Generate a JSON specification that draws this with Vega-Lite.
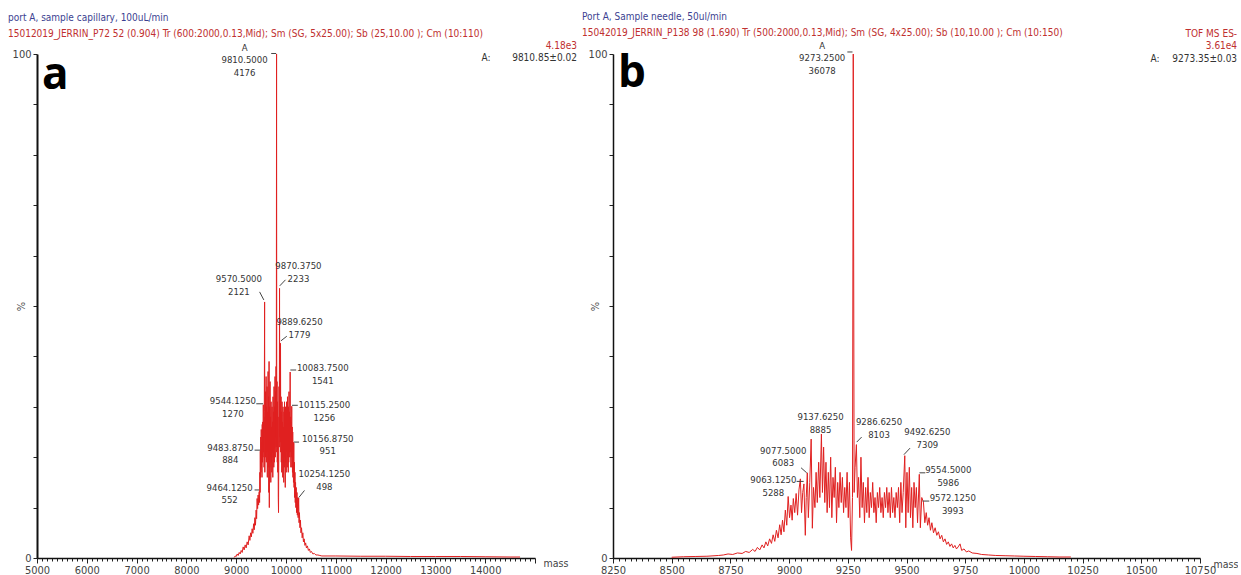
{
  "$schema": "https://vega.github.io/schema/vega-lite/v6.json",
  "padding": {"left": 8, "top": 12, "right": 0, "bottom": 0},
  "background": "white",
  "config": {
    "view": {"stroke": null},
    "font": "Liberation Sans Narrow, DejaVu Sans Condensed, Liberation Sans, sans-serif",
    "text": {"font": "Liberation Sans Narrow, DejaVu Sans Condensed, Liberation Sans, sans-serif"},
    "axis": {"labelFont": "Liberation Sans Narrow, DejaVu Sans Condensed, Liberation Sans, sans-serif", "titleFont": "Liberation Sans Narrow, DejaVu Sans Condensed, Liberation Sans, sans-serif"}
  },
  "datasets": {
    "specA": [
      {"m":8960,"i":0.1},{"m":8980,"i":0.4},{"m":9000,"i":0.3},{"m":9020,"i":0.8},{"m":9040,"i":0.5},{"m":9060,"i":1.1},{"m":9080,"i":0.8},{"m":9100,"i":1.5},{"m":9120,"i":1.1},{"m":9140,"i":2.2},{"m":9160,"i":1.6},{"m":9180,"i":2.6},{"m":9200,"i":2.0},{"m":9220,"i":3.2},{"m":9240,"i":2.6},{"m":9260,"i":4.4},{"m":9275,"i":3.5},{"m":9290,"i":5.0},{"m":9305,"i":4.2},{"m":9320,"i":5.8},{"m":9335,"i":4.9},{"m":9350,"i":6.8},{"m":9362,"i":5.6},{"m":9375,"i":8.0},{"m":9387,"i":6.5},{"m":9400,"i":9.5},{"m":9410,"i":7.8},{"m":9420,"i":11.8},{"m":9430,"i":9.8},{"m":9440,"i":12.5},{"m":9450,"i":10.5},{"m":9458,"i":13.0},{"m":9464.125,"i":13.2},{"m":9470,"i":11},{"m":9476,"i":17},{"m":9480,"i":13},{"m":9483.875,"i":21.2},{"m":9488,"i":16},{"m":9493,"i":24},{"m":9498,"i":17},{"m":9503,"i":25.5},{"m":9508,"i":18},{"m":9513,"i":23},{"m":9518,"i":16},{"m":9523,"i":26.5},{"m":9528,"i":19},{"m":9533,"i":27},{"m":9538,"i":20},{"m":9544.125,"i":30.4},{"m":9549,"i":21},{"m":9554,"i":27},{"m":9559,"i":18},{"m":9564,"i":29},{"m":9570.5,"i":50.8},{"m":9575,"i":17},{"m":9580,"i":28},{"m":9585,"i":20},{"m":9590,"i":33},{"m":9595,"i":22},{"m":9600,"i":36},{"m":9605,"i":19},{"m":9610,"i":30},{"m":9615,"i":21},{"m":9620,"i":34},{"m":9625,"i":16},{"m":9630,"i":29},{"m":9635,"i":22},{"m":9640,"i":37},{"m":9645,"i":18},{"m":9650,"i":32},{"m":9655,"i":13},{"m":9660,"i":39},{"m":9665,"i":10},{"m":9670,"i":30},{"m":9675,"i":18},{"m":9680,"i":35},{"m":9685,"i":20},{"m":9690,"i":28},{"m":9695,"i":15},{"m":9700,"i":31},{"m":9705,"i":19},{"m":9710,"i":26},{"m":9715,"i":17},{"m":9720,"i":30},{"m":9725,"i":21},{"m":9730,"i":27},{"m":9735,"i":16},{"m":9740,"i":32},{"m":9745,"i":20},{"m":9750,"i":29},{"m":9755,"i":18},{"m":9760,"i":34},{"m":9765,"i":19},{"m":9770,"i":30},{"m":9775,"i":22},{"m":9780,"i":36},{"m":9785,"i":20},{"m":9790,"i":33},{"m":9795,"i":24},{"m":9800,"i":38},{"m":9805,"i":22},{"m":9810.5,"i":100},{"m":9815,"i":21},{"m":9820,"i":35},{"m":9825,"i":19},{"m":9830,"i":31},{"m":9835,"i":17},{"m":9840,"i":28},{"m":9845,"i":12},{"m":9850,"i":9},{"m":9855,"i":20},{"m":9860,"i":34},{"m":9865,"i":22},{"m":9870.375,"i":53.5},{"m":9875,"i":24},{"m":9880,"i":36},{"m":9885,"i":23},{"m":9889.625,"i":42.6},{"m":9895,"i":21},{"m":9900,"i":32},{"m":9905,"i":19},{"m":9910,"i":29},{"m":9915,"i":17},{"m":9920,"i":31},{"m":9925,"i":20},{"m":9930,"i":27},{"m":9935,"i":16},{"m":9940,"i":30},{"m":9945,"i":19},{"m":9950,"i":26},{"m":9955,"i":15},{"m":9960,"i":29},{"m":9965,"i":18},{"m":9970,"i":31},{"m":9975,"i":20},{"m":9980,"i":28},{"m":9985,"i":14},{"m":9990,"i":30},{"m":9995,"i":19},{"m":10000,"i":27},{"m":10005,"i":17},{"m":10010,"i":31},{"m":10015,"i":21},{"m":10020,"i":29},{"m":10025,"i":18},{"m":10030,"i":32},{"m":10035,"i":20},{"m":10040,"i":28},{"m":10045,"i":17},{"m":10050,"i":30},{"m":10055,"i":19},{"m":10060,"i":33},{"m":10065,"i":21},{"m":10070,"i":29},{"m":10075,"i":20},{"m":10083.75,"i":36.9},{"m":10088,"i":21},{"m":10093,"i":28},{"m":10098,"i":18},{"m":10103,"i":27},{"m":10108,"i":20},{"m":10115.25,"i":30.1},{"m":10120,"i":18},{"m":10125,"i":26},{"m":10130,"i":17},{"m":10135,"i":25},{"m":10140,"i":16},{"m":10145,"i":23},{"m":10150,"i":15},{"m":10156.875,"i":22.8},{"m":10162,"i":14},{"m":10168,"i":19},{"m":10174,"i":12},{"m":10180,"i":17},{"m":10186,"i":11},{"m":10192,"i":15},{"m":10198,"i":10},{"m":10205,"i":14},{"m":10212,"i":9},{"m":10220,"i":13},{"m":10228,"i":8.5},{"m":10236,"i":12},{"m":10244,"i":8},{"m":10254.125,"i":11.9},{"m":10262,"i":7},{"m":10270,"i":9},{"m":10280,"i":6},{"m":10290,"i":7.5},{"m":10300,"i":5},{"m":10312,"i":6},{"m":10325,"i":4},{"m":10338,"i":5},{"m":10350,"i":3.2},{"m":10365,"i":3.8},{"m":10380,"i":2.5},{"m":10395,"i":3.0},{"m":10410,"i":2.0},{"m":10430,"i":2.4},{"m":10450,"i":1.5},{"m":10470,"i":1.8},{"m":10490,"i":1.1},{"m":10510,"i":1.3},{"m":10540,"i":0.8},{"m":10570,"i":0.9},{"m":10600,"i":0.6},{"m":10640,"i":0.6},{"m":10680,"i":0.5},{"m":10720,"i":0.4},{"m":11000,"i":0.4},{"m":11500,"i":0.35},{"m":12000,"i":0.35},{"m":12500,"i":0.3},{"m":13000,"i":0.3},{"m":13500,"i":0.3},{"m":14000,"i":0.25},{"m":14500,"i":0.2},{"m":14700,"i":0.2}
    ],
    "specB": [
      {"m":8500,"i":0.15},{"m":8550,"i":0.25},{"m":8600,"i":0.3},{"m":8650,"i":0.35},{"m":8700,"i":0.5},{"m":8720,"i":0.6},{"m":8740,"i":0.8},{"m":8760,"i":0.7},{"m":8780,"i":1.0},{"m":8800,"i":0.9},{"m":8815,"i":1.3},{"m":8830,"i":1.1},{"m":8845,"i":1.7},{"m":8855,"i":1.3},{"m":8865,"i":2.1},{"m":8875,"i":1.6},{"m":8885,"i":2.6},{"m":8893,"i":2.0},{"m":8901,"i":3.2},{"m":8909,"i":2.4},{"m":8917,"i":3.8},{"m":8925,"i":2.9},{"m":8932,"i":4.6},{"m":8939,"i":3.3},{"m":8946,"i":5.5},{"m":8953,"i":4.0},{"m":8960,"i":6.6},{"m":8966,"i":4.6},{"m":8972,"i":7.5},{"m":8978,"i":5.2},{"m":8984,"i":9.5},{"m":8990,"i":6.5},{"m":8996,"i":12.2},{"m":9002,"i":8},{"m":9008,"i":10.5},{"m":9013,"i":7.5},{"m":9018,"i":11.8},{"m":9024,"i":9},{"m":9030,"i":12.8},{"m":9036,"i":8.5},{"m":9042,"i":13.5},{"m":9048,"i":15.7},{"m":9053,"i":9},{"m":9058,"i":13},{"m":9063.125,"i":14.7},{"m":9069,"i":4.5},{"m":9073,"i":12},{"m":9077.5,"i":16.9},{"m":9082,"i":8},{"m":9088,"i":15},{"m":9094,"i":23.6},{"m":9099,"i":5.9},{"m":9104,"i":14},{"m":9110,"i":10},{"m":9115,"i":17},{"m":9120,"i":11},{"m":9126,"i":19},{"m":9131,"i":12},{"m":9137.625,"i":24.6},{"m":9142,"i":13},{"m":9147,"i":22},{"m":9152,"i":11},{"m":9157,"i":19},{"m":9162,"i":9},{"m":9167,"i":17},{"m":9172,"i":10},{"m":9177,"i":20},{"m":9182,"i":8},{"m":9187,"i":16},{"m":9192,"i":12},{"m":9197,"i":18},{"m":9202,"i":7},{"m":9207,"i":15},{"m":9212,"i":10},{"m":9217,"i":17},{"m":9222,"i":11},{"m":9227,"i":16},{"m":9232,"i":9},{"m":9237,"i":14},{"m":9242,"i":10},{"m":9247,"i":17},{"m":9252,"i":8},{"m":9257,"i":15},{"m":9262,"i":4},{"m":9266,"i":1.5},{"m":9270,"i":12},{"m":9273.25,"i":100},{"m":9277,"i":13},{"m":9281,"i":18},{"m":9286.625,"i":22.5},{"m":9291,"i":12},{"m":9296,"i":16},{"m":9301,"i":8},{"m":9306,"i":20},{"m":9311,"i":10},{"m":9316,"i":15},{"m":9321,"i":7},{"m":9326,"i":14},{"m":9331,"i":9},{"m":9336,"i":16},{"m":9341,"i":8},{"m":9346,"i":13},{"m":9351,"i":10},{"m":9356,"i":15},{"m":9361,"i":9},{"m":9366,"i":12},{"m":9371,"i":7},{"m":9376,"i":13},{"m":9381,"i":10},{"m":9386,"i":14},{"m":9391,"i":9},{"m":9396,"i":12},{"m":9401,"i":8},{"m":9406,"i":13},{"m":9411,"i":10},{"m":9416,"i":14},{"m":9421,"i":9},{"m":9426,"i":13},{"m":9431,"i":8},{"m":9436,"i":14},{"m":9441,"i":9},{"m":9446,"i":12},{"m":9451,"i":8},{"m":9456,"i":13},{"m":9461,"i":10},{"m":9466,"i":14},{"m":9471,"i":7},{"m":9476,"i":15},{"m":9481,"i":9},{"m":9486,"i":13},{"m":9492.625,"i":20.3},{"m":9497,"i":6},{"m":9502,"i":17},{"m":9507,"i":9},{"m":9512,"i":18},{"m":9517,"i":8},{"m":9522,"i":14},{"m":9527,"i":6},{"m":9532,"i":15},{"m":9537,"i":10},{"m":9542,"i":14},{"m":9547,"i":7},{"m":9554.5,"i":16.6},{"m":9559,"i":6},{"m":9565,"i":12},{"m":9572.125,"i":11.1},{"m":9578,"i":7},{"m":9584,"i":9},{"m":9590,"i":6.5},{"m":9596,"i":8},{"m":9602,"i":5.5},{"m":9608,"i":7},{"m":9615,"i":5},{"m":9622,"i":6},{"m":9629,"i":4.5},{"m":9636,"i":5.2},{"m":9643,"i":3.8},{"m":9650,"i":4.5},{"m":9657,"i":3.2},{"m":9664,"i":3.8},{"m":9671,"i":2.7},{"m":9678,"i":3.2},{"m":9685,"i":2.3},{"m":9692,"i":2.8},{"m":9699,"i":2.0},{"m":9706,"i":2.5},{"m":9713,"i":1.8},{"m":9720,"i":2.2},{"m":9728,"i":2.8},{"m":9735,"i":1.5},{"m":9745,"i":1.8},{"m":9755,"i":1.2},{"m":9765,"i":1.4},{"m":9780,"i":1.0},{"m":9800,"i":0.9},{"m":9820,"i":0.7},{"m":9850,"i":0.6},{"m":9880,"i":0.5},{"m":9920,"i":0.45},{"m":9960,"i":0.4},{"m":10000,"i":0.35},{"m":10050,"i":0.3},{"m":10100,"i":0.25},{"m":10150,"i":0.2},{"m":10200,"i":0.2}
    ],
    "labA": [
      {"x":9168,"y":102.2,"t":"A\n9810.5000\n4176"},
      {"x":9054,"y":56.3,"t":"9570.5000\n2121"},
      {"x":10250,"y":58.9,"t":"9870.3750\n2233"},
      {"x":10271,"y":47.8,"t":"9889.6250\n1779"},
      {"x":10738,"y":38.6,"t":"10083.7500\n1541"},
      {"x":10771,"y":31.3,"t":"10115.2500\n1256"},
      {"x":10838,"y":24.7,"t":"10156.8750\n951"},
      {"x":10771,"y":17.6,"t":"10254.1250\n498"},
      {"x":8934,"y":32.1,"t":"9544.1250\n1270"},
      {"x":8882,"y":22.9,"t":"9483.8750\n884"},
      {"x":8868,"y":14.9,"t":"9464.1250\n552"}
    ],
    "leadA": [
      {"x":9703,"y":100.1,"x2":9803,"y2":100.1},
      {"x":9470,"y":52.8,"x2":9555,"y2":51.2},
      {"x":9875,"y":54,"x2":9990,"y2":55.2},
      {"x":9900,"y":43.1,"x2":10016,"y2":44},
      {"x":10088,"y":37.3,"x2":10204,"y2":37.3},
      {"x":10120,"y":30.3,"x2":10237,"y2":30.3},
      {"x":10160,"y":23,"x2":10262,"y2":23},
      {"x":10257,"y":12,"x2":10371,"y2":13.4},
      {"x":9403,"y":30.6,"x2":9540,"y2":30.6},
      {"x":9369,"y":21.4,"x2":9480,"y2":21.4},
      {"x":9369,"y":13.5,"x2":9460,"y2":13.5}
    ],
    "labB": [
      {"x":9141,"y":102.6,"t":"A\n9273.2500\n36078"},
      {"x":9134,"y":28.9,"t":"9137.6250\n8885"},
      {"x":9383,"y":27.9,"t":"9286.6250\n8103"},
      {"x":9589,"y":25.9,"t":"9492.6250\n7309"},
      {"x":8975,"y":22.3,"t":"9077.5000\n6083"},
      {"x":8933,"y":16.4,"t":"9063.1250\n5288"},
      {"x":9678,"y":18.4,"t":"9554.5000\n5986"},
      {"x":9697,"y":12.8,"t":"9572.1250\n3993"}
    ],
    "leadB": [
      {"x":9248,"y":100.4,"x2":9270,"y2":100.4},
      {"x":9288,"y":23,"x2":9309,"y2":24},
      {"x":9489,"y":20.5,"x2":9515,"y2":21.8},
      {"x":9051,"y":17.9,"x2":9075,"y2":16.9},
      {"x":9032,"y":15.2,"x2":9062,"y2":15.2},
      {"x":9555,"y":16.9,"x2":9580,"y2":16.9},
      {"x":9569,"y":11.3,"x2":9597,"y2":11.3}
    ]
  },
  "hconcat": [
    {
      "width": 498,
      "height": 504,
      "title": {
        "text": "port A, sample capillary, 100uL/min",
        "subtitle": "15012019_JERRIN_P72  52 (0.904) Tr (600:2000,0.13,Mid); Sm (SG, 5x25.00); Sb (25,10.00 ); Cm (10:110)",
        "anchor": "start", "frame": "group", "dx": -29, "dy": -5, "offset": -3,
        "color": "#3c3f91", "subtitleColor": "#c0302f",
        "fontSize": 10, "subtitleFontSize": 10, "fontWeight": "normal",
        "font": "Liberation Sans Narrow, DejaVu Sans Condensed, Liberation Sans, sans-serif",
        "subtitleFont": "Liberation Sans Narrow, DejaVu Sans Condensed, Liberation Sans, sans-serif",
        "subtitlePadding": 6
      },
      "layer": [
        {
          "data": {"name": "specA"},
          "mark": {"type": "line", "color": "#e02020", "strokeWidth": 1, "interpolate": "linear"},
          "encoding": {
            "x": {"field": "m", "type": "quantitative",
              "scale": {"domain": [5000, 15000], "nice": false, "zero": false},
              "axis": {"title": "mass", "titleX": 506, "titleY": 5, "titleAlign": "left", "titleBaseline": "middle",
                "titleFontSize": 10.5, "titleFontWeight": "normal", "titleColor": "#444",
                "tickCount": 100, "format": "d", "labelOverlap": false, "labelFlush": false,
                "labelExpr": "datum.value % 1000 === 0 && datum.value < 15000 ? datum.label : ''",
                "tickSize": {"condition": {"test": "datum.value % 1000 === 0", "value": 5}, "value": 3},
                "tickColor": "#222", "domainColor": "#111", "domainWidth": 1.5,
                "labelFontSize": 11, "labelColor": "#444", "labelPadding": 1, "grid": false}},
            "y": {"field": "i", "type": "quantitative",
              "scale": {"domain": [0, 100], "nice": false},
              "axis": {"title": "%", "titleX": -16, "titleY": 252, "titleAngle": -90, "titleAlign": "center", "titleBaseline": "middle",
                "titleFontSize": 11, "titleFontWeight": "normal", "titleColor": "#555",
                "values": [0,10,20,30,40,50,60,70,80,90,100], "tickCount": 50,
                "labelExpr": "datum.value === 0 || datum.value === 100 ? datum.label : ''",
                "labelOverlap": false, "labelFlush": false,
                "tickSize": 4, "tickColor": "#222", "domainColor": "#111", "domainWidth": 2,
                "labelFontSize": 11, "labelColor": "#444", "labelPadding": 2, "grid": false}}
          }
        },
        {
          "data": {"name": "leadA"},
          "mark": {"type": "rule", "color": "#444", "strokeWidth": 1},
          "encoding": {
            "x": {"field": "x", "type": "quantitative"},
            "x2": {"field": "x2"},
            "y": {"field": "y", "type": "quantitative"},
            "y2": {"field": "y2"}
          }
        },
        {
          "data": {"name": "labA"},
          "mark": {"type": "text", "align": "center", "baseline": "top", "fontSize": 9.5, "lineHeight": 12.5, "color": "#333", "lineBreak": "\n"},
          "encoding": {
            "x": {"field": "x", "type": "quantitative"},
            "y": {"field": "y", "type": "quantitative"},
            "text": {"field": "t"}
          }
        },
        {
          "data": {"values": [{"x": 5100, "y": 93, "t": "a"}]},
          "mark": {"type": "text", "align": "left", "baseline": "alphabetic", "fontSize": 44, "fontWeight": "bold", "font": "Open Sans, Liberation Sans, sans-serif", "color": "#000"},
          "encoding": {
            "x": {"field": "x", "type": "quantitative"},
            "y": {"field": "y", "type": "quantitative"},
            "text": {"field": "t"}
          }
        },
        {
          "data": {"values": [{"x": 15842, "y": 101.6, "t": "4.18e3"}]},
          "mark": {"type": "text", "align": "right", "baseline": "middle", "fontSize": 10, "color": "#c0302f"},
          "encoding": {
            "x": {"field": "x", "type": "quantitative"},
            "y": {"field": "y", "type": "quantitative"},
            "text": {"field": "t"}
          }
        },
        {
          "data": {"values": [{"x": 15842, "y": 99.2, "t": "9810.85±0.02"}]},
          "mark": {"type": "text", "align": "right", "baseline": "middle", "fontSize": 10, "color": "#333"},
          "encoding": {
            "x": {"field": "x", "type": "quantitative"},
            "y": {"field": "y", "type": "quantitative"},
            "text": {"field": "t"}
          }
        },
        {
          "data": {"values": [{"x": 14018, "y": 99.2, "t": "A:"}]},
          "mark": {"type": "text", "align": "center", "baseline": "middle", "fontSize": 10, "color": "#333"},
          "encoding": {
            "x": {"field": "x", "type": "quantitative"},
            "y": {"field": "y", "type": "quantitative"},
            "text": {"field": "t"}
          }
        }
      ]
    },
    {
      "width": 587,
      "height": 504,
      "title": {
        "text": "Port A, Sample needle, 50ul/min",
        "subtitle": "15042019_JERRIN_P138  98 (1.690) Tr (500:2000,0.13,Mid); Sm (SG, 4x25.00); Sb (10,10.00 ); Cm (10:150)",
        "anchor": "start", "frame": "group", "dx": -31, "dy": 6, "offset": -3,
        "color": "#3c3f91", "subtitleColor": "#c0302f",
        "fontSize": 10, "subtitleFontSize": 10, "fontWeight": "normal",
        "font": "Liberation Sans Narrow, DejaVu Sans Condensed, Liberation Sans, sans-serif",
        "subtitleFont": "Liberation Sans Narrow, DejaVu Sans Condensed, Liberation Sans, sans-serif",
        "subtitlePadding": 6
      },
      "layer": [
        {
          "data": {"name": "specB"},
          "mark": {"type": "line", "color": "#e02020", "strokeWidth": 1, "interpolate": "linear"},
          "encoding": {
            "x": {"field": "m", "type": "quantitative",
              "scale": {"domain": [8250, 10750], "nice": false, "zero": false},
              "axis": {"title": "mass", "titleX": 600, "titleY": 6, "titleAlign": "left", "titleBaseline": "middle",
                "titleFontSize": 10.5, "titleFontWeight": "normal", "titleColor": "#444",
                "values": [8250,8275,8300,8325,8350,8375,8400,8425,8450,8475,8500,8525,8550,8575,8600,8625,8650,8675,8700,8725,8750,8775,8800,8825,8850,8875,8900,8925,8950,8975,9000,9025,9050,9075,9100,9125,9150,9175,9200,9225,9250,9275,9300,9325,9350,9375,9400,9425,9450,9475,9500,9525,9550,9575,9600,9625,9650,9675,9700,9725,9750,9775,9800,9825,9850,9875,9900,9925,9950,9975,10000,10025,10050,10075,10100,10125,10150,10175,10200,10225,10250,10275,10300,10325,10350,10375,10400,10425,10450,10475,10500,10525,10550,10575,10600,10625,10650,10675,10700,10725,10750],
                "tickCount": 300,
                "format": "d", "labelOverlap": false, "labelFlush": false,
                "labelExpr": "datum.value % 250 === 0 ? datum.label : ''",
                "tickSize": {"condition": {"test": "datum.value % 250 === 0", "value": 5}, "value": 3},
                "tickColor": "#222", "domainColor": "#111", "domainWidth": 1.5,
                "labelFontSize": 11, "labelColor": "#444", "labelPadding": 1, "grid": false}},
            "y": {"field": "i", "type": "quantitative",
              "scale": {"domain": [0, 100], "nice": false},
              "axis": {"title": "%", "titleX": -18, "titleY": 252, "titleAngle": -90, "titleAlign": "center", "titleBaseline": "middle",
                "titleFontSize": 11, "titleFontWeight": "normal", "titleColor": "#555",
                "values": [0,10,20,30,40,50,60,70,80,90,100], "tickCount": 50,
                "labelExpr": "datum.value === 0 || datum.value === 100 ? datum.label : ''",
                "labelOverlap": false, "labelFlush": false,
                "tickSize": 4, "tickColor": "#222", "domainColor": "#111", "domainWidth": 1.5,
                "labelFontSize": 11, "labelColor": "#444", "labelPadding": 2, "grid": false}}
          }
        },
        {
          "data": {"name": "leadB"},
          "mark": {"type": "rule", "color": "#444", "strokeWidth": 1},
          "encoding": {
            "x": {"field": "x", "type": "quantitative"},
            "x2": {"field": "x2"},
            "y": {"field": "y", "type": "quantitative"},
            "y2": {"field": "y2"}
          }
        },
        {
          "data": {"name": "labB"},
          "mark": {"type": "text", "align": "center", "baseline": "top", "fontSize": 9.5, "lineHeight": 12.5, "color": "#333", "lineBreak": "\n"},
          "encoding": {
            "x": {"field": "x", "type": "quantitative"},
            "y": {"field": "y", "type": "quantitative"},
            "text": {"field": "t"}
          }
        },
        {
          "data": {"values": [{"x": 8271, "y": 93.5, "t": "b"}]},
          "mark": {"type": "text", "align": "left", "baseline": "alphabetic", "fontSize": 44, "fontWeight": "bold", "font": "Open Sans, Liberation Sans, sans-serif", "color": "#000"},
          "encoding": {
            "x": {"field": "x", "type": "quantitative"},
            "y": {"field": "y", "type": "quantitative"},
            "text": {"field": "t"}
          }
        },
        {
          "data": {"values": [{"x": 10908, "y": 103.9, "t": "TOF MS ES-"}, {"x": 10908, "y": 101.6, "t": "3.61e4"}]},
          "mark": {"type": "text", "align": "right", "baseline": "middle", "fontSize": 10, "color": "#c0302f"},
          "encoding": {
            "x": {"field": "x", "type": "quantitative"},
            "y": {"field": "y", "type": "quantitative"},
            "text": {"field": "t"}
          }
        },
        {
          "data": {"values": [{"x": 10908, "y": 99, "t": "9273.35±0.03"}]},
          "mark": {"type": "text", "align": "right", "baseline": "middle", "fontSize": 10, "color": "#333"},
          "encoding": {
            "x": {"field": "x", "type": "quantitative"},
            "y": {"field": "y", "type": "quantitative"},
            "text": {"field": "t"}
          }
        },
        {
          "data": {"values": [{"x": 10558, "y": 99, "t": "A:"}]},
          "mark": {"type": "text", "align": "center", "baseline": "middle", "fontSize": 10, "color": "#333"},
          "encoding": {
            "x": {"field": "x", "type": "quantitative"},
            "y": {"field": "y", "type": "quantitative"},
            "text": {"field": "t"}
          }
        }
      ]
    }
  ],
  "spacing": 78,
  "bounds": "flush"
}
